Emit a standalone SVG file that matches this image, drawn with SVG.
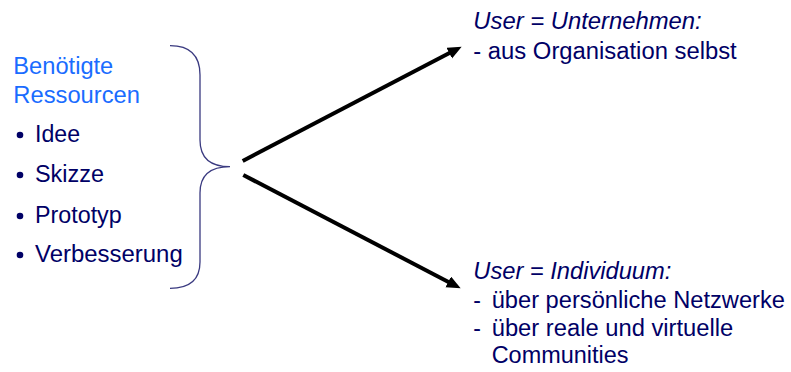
<svg xmlns="http://www.w3.org/2000/svg" width="791" height="372" viewBox="0 0 791 372">
<style>
text{font-family:"Liberation Sans",Arial,sans-serif;font-size:23px;fill:#000066}
.head{fill:#1a6cff}
.it{font-style:italic}
.conn{stroke:#000;stroke-width:4;fill:none}
.brace{stroke:#3a3a80;stroke-width:1.3;fill:none}
</style>
<defs>
<marker id="ah" markerUnits="userSpaceOnUse" markerWidth="16" markerHeight="14" refX="4" refY="6" orient="auto">
<path d="M0,0 L14,6 L0,12 z" fill="#000"/>
</marker>
</defs>
<g id="resources">
<text class="head" x="13.3" y="74" textLength="100" lengthAdjust="spacingAndGlyphs">Benötigte</text>
<text class="head" x="13.3" y="102.7" textLength="126.7" lengthAdjust="spacingAndGlyphs">Ressourcen</text>
<circle cx="20" cy="135" r="3.3" fill="#000066"/>
<text x="35" y="142" textLength="45" lengthAdjust="spacingAndGlyphs">Idee</text>
<circle cx="20" cy="175" r="3.3" fill="#000066"/>
<text x="35" y="182" textLength="69" lengthAdjust="spacingAndGlyphs">Skizze</text>
<circle cx="20" cy="216" r="3.3" fill="#000066"/>
<text x="35" y="223" textLength="86.7" lengthAdjust="spacingAndGlyphs">Prototyp</text>
<circle cx="20" cy="255" r="3.3" fill="#000066"/>
<text x="35" y="262" textLength="147.7" lengthAdjust="spacingAndGlyphs">Verbesserung</text>
</g>
<g id="brace">
<path class="brace" d="M170,45.7 C190,45.7 200,55 200,75 L200,140 C200,158 210,166.7 230,166.7 C210,166.7 200,175 200,193 L200,262 C200,280 190,288.3 170,288.3"/>
</g>
<g id="connectors">
<line class="conn" x1="242.7" y1="161" x2="452.8" y2="51.3" marker-end="url(#ah)"/>
<line class="conn" x1="243.3" y1="175" x2="451.8" y2="283.7" marker-end="url(#ah)"/>
</g>
<g id="unternehmen">
<text class="it" x="473.3" y="29.3" textLength="228.4" lengthAdjust="spacingAndGlyphs">User = Unternehmen:</text>
<text x="473.3" y="59.3" textLength="263.4" lengthAdjust="spacingAndGlyphs">- aus Organisation selbst</text>
</g>
<g id="individuum">
<text class="it" x="473.3" y="279.3" textLength="198" lengthAdjust="spacingAndGlyphs">User = Individuum:</text>
<text x="473.3" y="308.3">-</text>
<text x="491.7" y="308.3" textLength="293.3" lengthAdjust="spacingAndGlyphs">über persönliche Netzwerke</text>
<text x="473.3" y="335.5">-</text>
<text x="491.7" y="335.5" textLength="241.6" lengthAdjust="spacingAndGlyphs">über reale und virtuelle</text>
<text x="491.7" y="363.3" textLength="136.7" lengthAdjust="spacingAndGlyphs">Communities</text>
</g>
</svg>
